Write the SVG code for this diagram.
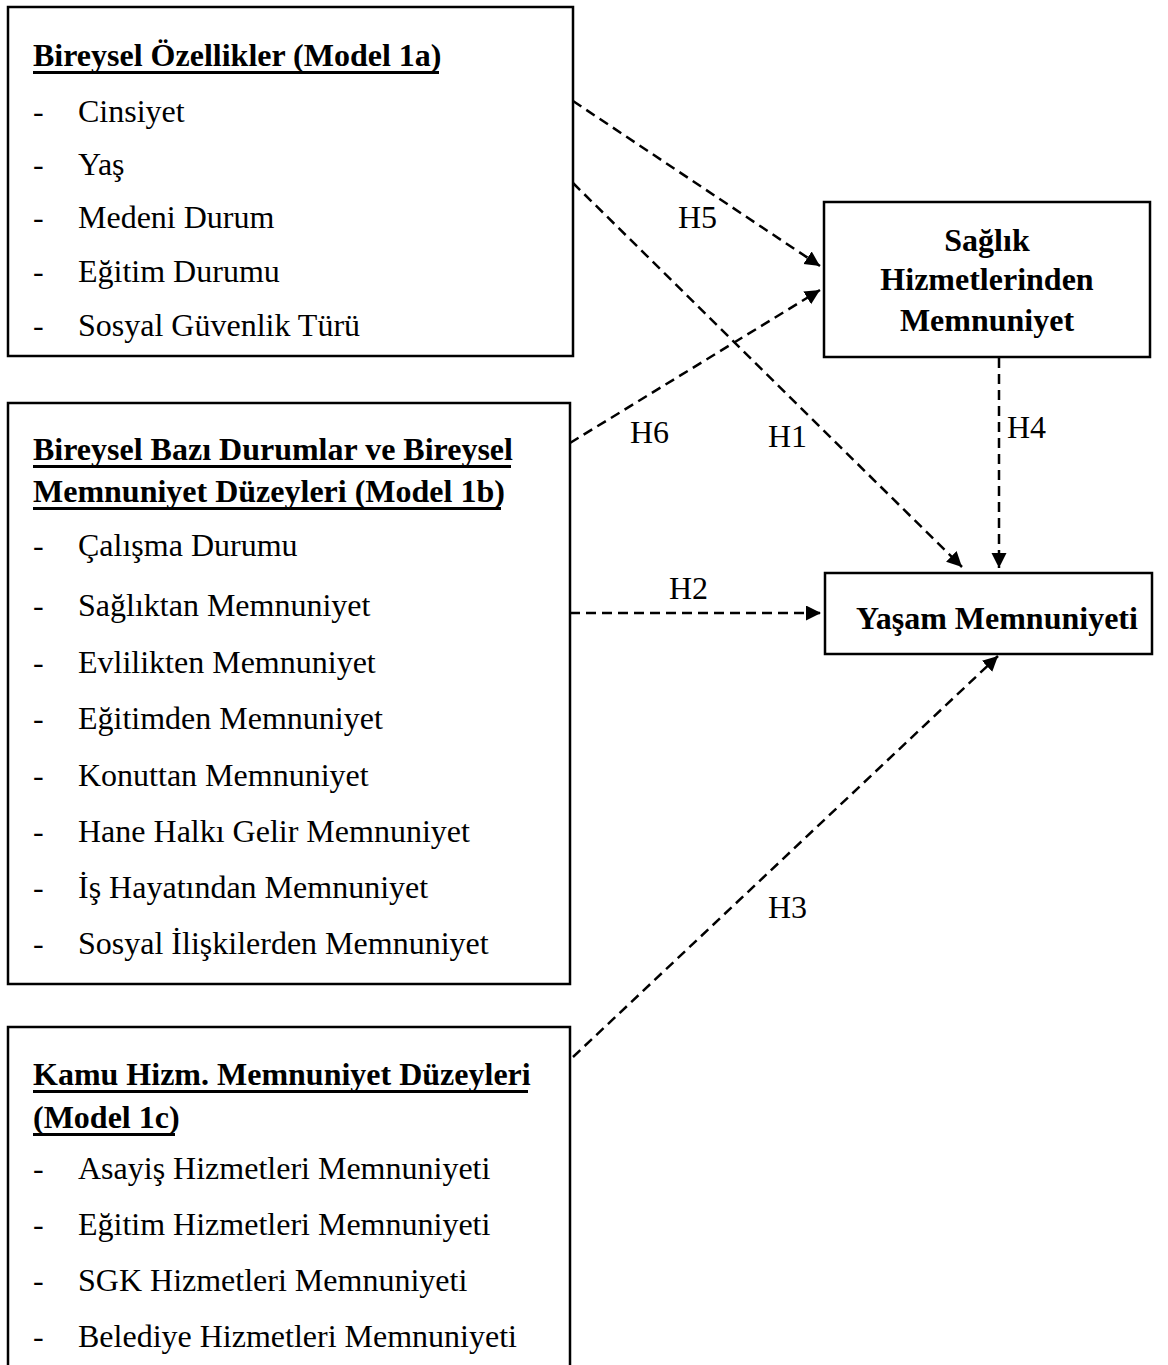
<svg xmlns="http://www.w3.org/2000/svg" width="1168" height="1365" viewBox="0 0 1168 1365">
  <style>
    .box { fill: #ffffff; stroke: #000000; stroke-width: 2.5; }
    .t { font-family: "Liberation Serif", "Times New Roman", serif; font-size: 32px; fill: #000000; }
    .b { font-weight: bold; }
    .ul { stroke: #000000; stroke-width: 3; }
    .mid { text-anchor: middle; }
    .link { fill: none; stroke: #000000; stroke-width: 2.5; stroke-dasharray: 10 6; marker-end: url(#head); }
  </style>
  <defs>
    <marker id="head" markerUnits="userSpaceOnUse" markerWidth="16" markerHeight="16" refX="15" refY="7.5" orient="auto">
      <path d="M0,0 L15,7.5 L0,15 Z" fill="#000000"/>
    </marker>
  </defs>

  <rect width="1168" height="1365" fill="#ffffff"/>

  <!-- Model 1a: individual characteristics -->
  <g id="model-1a">
    <rect class="box" x="8" y="7" width="565" height="349"/>
    <text class="t b" x="33" y="66">Bireysel Özellikler (Model 1a)</text>
    <line class="ul" x1="33" y1="72.5" x2="439" y2="72.5"/>
    <text class="t" x="33" y="122">-</text><text class="t" x="78" y="122">Cinsiyet</text>
    <text class="t" x="33" y="175">-</text><text class="t" x="78" y="175">Yaş</text>
    <text class="t" x="33" y="228">-</text><text class="t" x="78" y="228">Medeni Durum</text>
    <text class="t" x="33" y="282">-</text><text class="t" x="78" y="282">Eğitim Durumu</text>
    <text class="t" x="33" y="336">-</text><text class="t" x="78" y="336">Sosyal Güvenlik Türü</text>
  </g>

  <!-- Model 1b: individual situations and satisfaction levels -->
  <g id="model-1b">
    <rect class="box" x="8" y="403" width="562" height="581"/>
    <text class="t b" x="33" y="460">Bireysel Bazı Durumlar ve Bireysel</text>
    <line class="ul" x1="33" y1="466.5" x2="511" y2="466.5"/>
    <text class="t b" x="33" y="502">Memnuniyet Düzeyleri (Model 1b)</text>
    <line class="ul" x1="33" y1="508.5" x2="501" y2="508.5"/>
    <text class="t" x="33" y="556">-</text><text class="t" x="78" y="556">Çalışma Durumu</text>
    <text class="t" x="33" y="616">-</text><text class="t" x="78" y="616">Sağlıktan Memnuniyet</text>
    <text class="t" x="33" y="673">-</text><text class="t" x="78" y="673">Evlilikten Memnuniyet</text>
    <text class="t" x="33" y="729">-</text><text class="t" x="78" y="729">Eğitimden Memnuniyet</text>
    <text class="t" x="33" y="786">-</text><text class="t" x="78" y="786">Konuttan Memnuniyet</text>
    <text class="t" x="33" y="842">-</text><text class="t" x="78" y="842">Hane Halkı Gelir Memnuniyet</text>
    <text class="t" x="33" y="898">-</text><text class="t" x="78" y="898">İş Hayatından Memnuniyet</text>
    <text class="t" x="33" y="954">-</text><text class="t" x="78" y="954">Sosyal İlişkilerden Memnuniyet</text>
  </g>

  <!-- Model 1c: public service satisfaction levels -->
  <g id="model-1c">
    <rect class="box" x="8" y="1027" width="562" height="360"/>
    <text class="t b" x="33" y="1085">Kamu Hizm. Memnuniyet Düzeyleri</text>
    <line class="ul" x1="33" y1="1091.5" x2="528" y2="1091.5"/>
    <text class="t b" x="33" y="1128">(Model 1c)</text>
    <line class="ul" x1="33" y1="1134.5" x2="175" y2="1134.5"/>
    <text class="t" x="33" y="1179">-</text><text class="t" x="78" y="1179">Asayiş Hizmetleri Memnuniyeti</text>
    <text class="t" x="33" y="1235">-</text><text class="t" x="78" y="1235">Eğitim Hizmetleri Memnuniyeti</text>
    <text class="t" x="33" y="1291">-</text><text class="t" x="78" y="1291">SGK Hizmetleri Memnuniyeti</text>
    <text class="t" x="33" y="1347">-</text><text class="t" x="78" y="1347">Belediye Hizmetleri Memnuniyeti</text>
  </g>

  <!-- Mediator: satisfaction with health services -->
  <g id="saglik">
    <rect class="box" x="824" y="202" width="326" height="155"/>
    <text class="t b mid" x="987" y="251">Sağlık</text>
    <text class="t b mid" x="987" y="290">Hizmetlerinden</text>
    <text class="t b mid" x="987" y="331">Memnuniyet</text>
  </g>

  <!-- Outcome: life satisfaction -->
  <g id="yasam">
    <rect class="box" x="825" y="573" width="327" height="81"/>
    <text class="t b mid" x="997" y="629">Yaşam Memnuniyeti</text>
  </g>

  <!-- Hypothesis paths -->
  <g id="connectors">
    <line class="link" x1="573" y1="101" x2="820" y2="266"/>
    <line class="link" x1="573" y1="183" x2="962" y2="567"/>
    <line class="link" x1="570" y1="443" x2="820" y2="290"/>
    <line class="link" x1="999" y1="358" x2="999" y2="568"/>
    <line class="link" x1="570" y1="613" x2="821" y2="613"/>
    <line class="link" x1="573" y1="1057" x2="998" y2="656"/>
  </g>

  <!-- Hypothesis labels -->
  <g id="labels">
    <text class="t" x="678" y="228">H5</text>
    <text class="t" x="630" y="443">H6</text>
    <text class="t" x="768" y="447">H1</text>
    <text class="t" x="1007" y="438">H4</text>
    <text class="t" x="669" y="599">H2</text>
    <text class="t" x="768" y="918">H3</text>
  </g>
</svg>
